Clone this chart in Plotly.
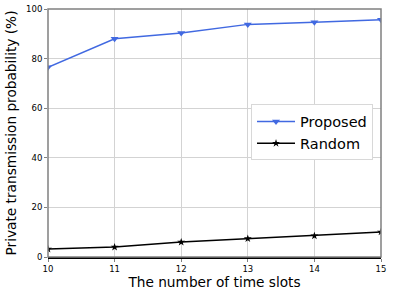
import plotly.graph_objects as go

slots = [10, 11, 12, 13, 14, 15]
proposed = [76.5, 88.0, 90.3, 93.8, 94.7, 95.7]
random_ = [3.2, 4.0, 6.0, 7.4, 8.5, 10.1]
x_ticks = [10, 11, 12, 13, 14, 15]
y_ticks = [0, 20, 40, 60, 80, 100]

fig = go.Figure()
fig.add_trace(go.Scatter(x=slots, y=proposed, mode="lines+markers", name="Proposed",
                         line=dict(color="#4169E1", width=1.5),
                         marker=dict(symbol="triangle-down", size=7, color="#4169E1")))
fig.add_trace(go.Scatter(x=slots, y=random_, mode="lines+markers", name="Random",
                         line=dict(color="black", width=1.5),
                         marker=dict(symbol="star", size=6, color="black")))

fig.update_layout(
    width=393, height=297,
    margin=dict(l=48, r=12, t=9, b=40),
    paper_bgcolor="white", plot_bgcolor="white",
    font=dict(family="DejaVu Sans", color="black"),
    legend=dict(x=0.976, y=0.615, xanchor="right", yanchor="top",
                bgcolor="white", bordercolor="#d8d8d8", borderwidth=1,
                font=dict(size=14.5), tracegroupgap=0, itemwidth=38),
    shapes=[dict(type="rect", xref="paper", yref="paper", x0=0, y0=0, x1=1, y1=1,
                 line=dict(color="#808080", width=1.5), layer="above")],
)
fig.update_xaxes(range=[10, 15], tickvals=x_ticks, ticktext=[str(v) for v in x_ticks],
                 showgrid=True, gridcolor="#d3d3d3", gridwidth=1,
                 showline=True, linecolor="black", linewidth=1.5,
                 ticks="outside", ticklen=3, tickcolor="#808080",
                 tickfont=dict(size=8.5), zeroline=False, automargin=False,
                 ticklabeloverflow="allow",
                 title=dict(text="The number of time slots", font=dict(size=13.7), standoff=4))
fig.update_yaxes(range=[0, 100], tickvals=y_ticks, ticktext=[str(v) for v in y_ticks],
                 showgrid=True, gridcolor="#d3d3d3", gridwidth=1,
                 ticks="outside", ticklen=3, tickcolor="#808080",
                 tickfont=dict(size=8.5), zeroline=False, automargin=False,
                 ticklabeloverflow="allow",
                 title=dict(text="Private transmission probability (%)", font=dict(size=13.7), standoff=6))

fig.write_html("out.html", config={"displayModeBar": False},
               post_script="document.body.style.margin='0';document.body.style.overflow='hidden';")
